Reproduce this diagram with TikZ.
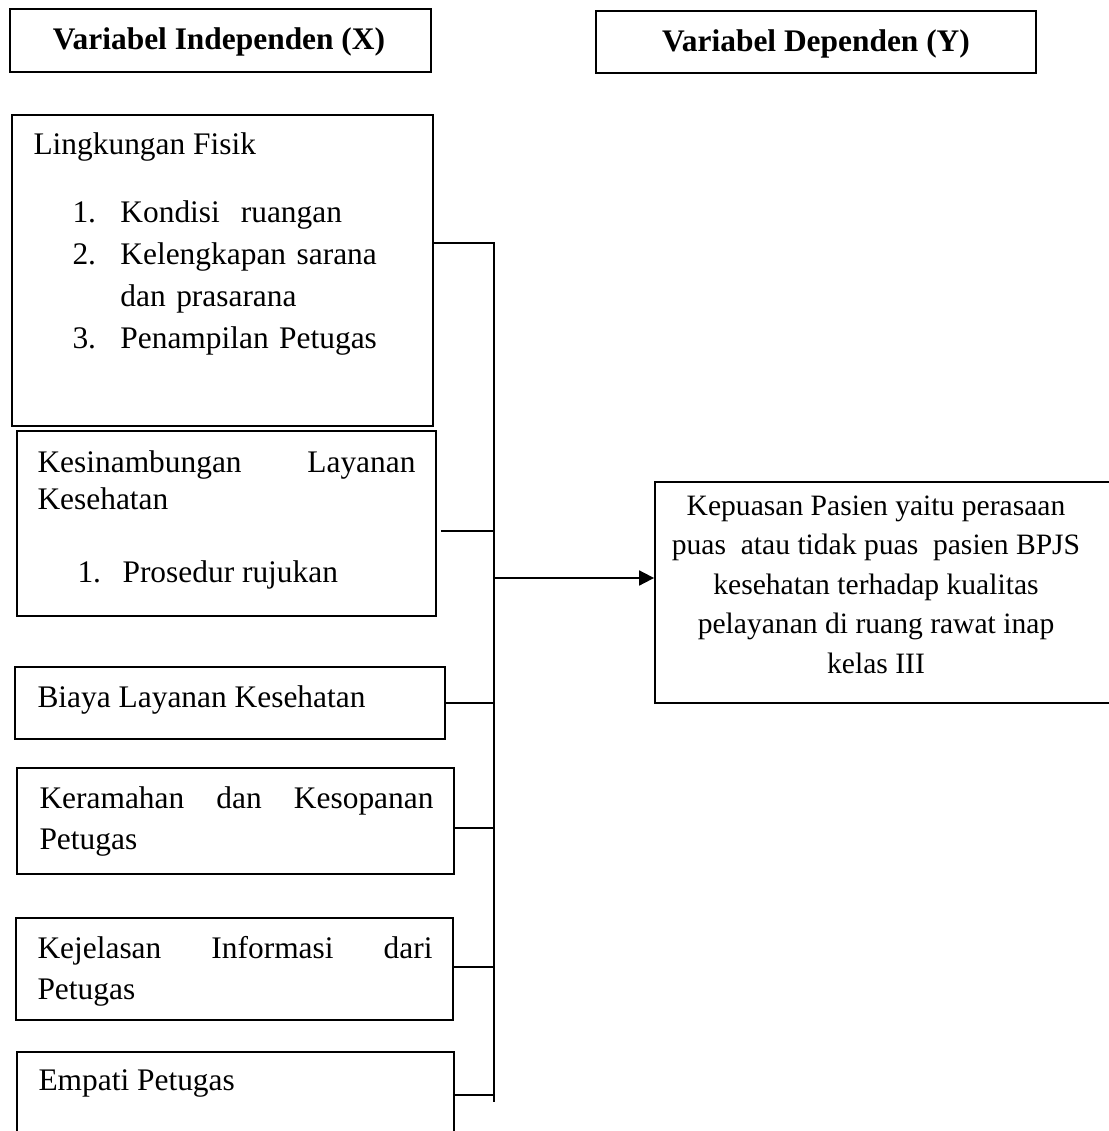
\documentclass[tikz,border=0pt]{standalone}
\usepackage{fontspec}
\setmainfont{Liberation Serif}
\usetikzlibrary{fit,arrows.meta}

\begin{document}
\begin{tikzpicture}[x=0.382pt,y=-0.382pt,
  box/.style={draw,line width=0.7pt,inner sep=0pt},
  txt/.style={inner sep=0pt,anchor=base west,align=left,font=\fontsize{12}{16}\selectfont},
  link/.style={line width=0.7pt}]
  \useasboundingbox (0,0) rectangle (1108,1131);
  % judul kolom
  \node[box,line width=0.9pt,fit={(10,9) (431,72)}] (varx) {};
  \node[box,line width=0.9pt,fit={(596,11) (1036,73)}] (vary) {};
  \node[txt,anchor=base,font=\fontsize{12}{16}\selectfont\bfseries] (varxt) at (219,50) {Variabel Independen (X)};
  \node[txt,anchor=base,font=\fontsize{12}{16}\selectfont\bfseries] (varyt) at (816,52) {Variabel Dependen (Y)};
  % kotak variabel X
  \node[box,fit={(12,115) (433,426)}] (fisik) {};
  \node[box,fit={(17,431) (436,616)}] (kesinambungan) {};
  \node[box,fit={(15,667) (445,739)}] (biaya) {};
  \node[box,fit={(17,768) (454,874)}] (keramahan) {};
  \node[box,fit={(16,918) (453,1020)}] (informasi) {};
  \node[box,fit={(17,1052) (454,1150)}] (empati) {};
  \node[txt] (fisikt) at (33,155) {Lingkungan Fisik};
  \node[txt,text width=350*0.382pt] (fisikl) at (72,223) {\makebox[18.3pt][l]{1.}Kondisi~ ruangan\\
    \makebox[18.3pt][l]{2.}Kelengkapan sarana\\
    \hspace*{18.3pt}dan prasarana\\
    \makebox[18.3pt][l]{3.}Penampilan Petugas};
  \node[txt,text width=378*0.382pt,font=\fontsize{12}{14.5}\selectfont] (kesinambungant) at (37,472) {Kesinambungan\hfill Layanan\\Kesehatan};
  \node[txt] (rujukant) at (77,582) {\makebox[17.2pt][l]{1.}Prosedur rujukan};
  \node[txt] (biayat) at (37,707) {Biaya Layanan Kesehatan};
  \node[txt,text width=394*0.382pt] (keramahant) at (39,808) {Keramahan\hfill dan\hfill Kesopanan\\Petugas};
  \node[txt,text width=395*0.382pt] (informasit) at (37,958) {Kejelasan\hfill Informasi\hfill dari\\Petugas};
  \node[txt] (empatit) at (38,1090) {Empati Petugas};
  % kotak variabel Y
  \node[box,fit={(655,482) (1130,703)}] (kepuasan) {};
  \node[txt,anchor=base,align=flush center,text width=440*0.382pt,font=\fontsize{11.3}{15.1}\selectfont] (kepuasant) at (876,515) {Kepuasan Pasien yaitu perasaan\\
    puas~ atau tidak puas~ pasien BPJS\\
    kesehatan terhadap kualitas\\
    pelayanan di ruang rawat inap\\
    kelas III};
  % garis penghubung
  \coordinate (j1) at (494,243);
  \coordinate (j2) at (494,531);
  \coordinate (ja) at (494,578);
  \coordinate (j3) at (494,703);
  \coordinate (j4) at (494,828);
  \coordinate (j5) at (494,967);
  \coordinate (j6) at (494,1095);
  \coordinate (jend) at (494,1102);
  \draw[link] (fisik.east |- j1) -- (j1) -- (jend);
  \draw[link] ([xshift=1.5pt]kesinambungan.east |- j2) -- (j2);
  \draw[link] (biaya.east |- j3) -- (j3);
  \draw[link] (keramahan.east |- j4) -- (j4);
  \draw[link] (informasi.east |- j5) -- (j5);
  \draw[link] ([xshift=-0.8pt]empati.east |- j6) -- (j6);
  \draw[link,-{Triangle[length=5.7pt,width=5.7pt]}] (ja) -- (kepuasan.west |- ja);
\end{tikzpicture}
\end{document}
